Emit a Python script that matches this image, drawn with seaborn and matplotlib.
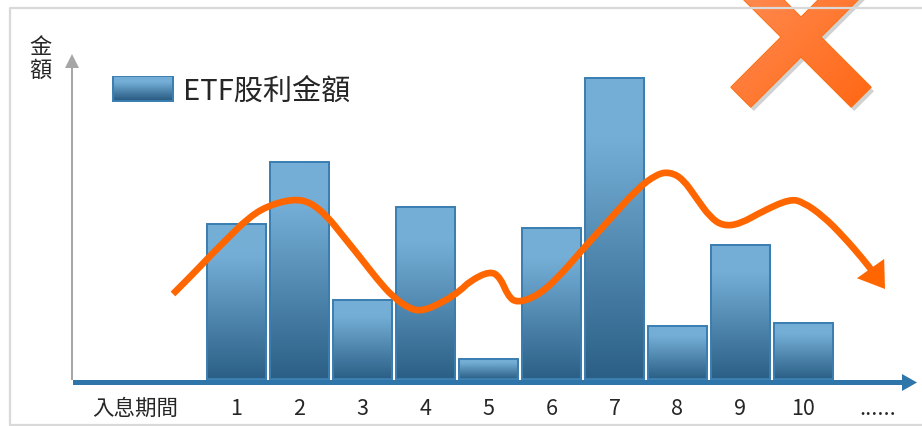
import numpy as np
import pandas as pd
import seaborn as sns
import matplotlib.pyplot as plt
from matplotlib.patches import Patch, Polygon, PathPatch
from matplotlib.path import Path
from matplotlib.colors import to_rgb

# data (amounts in arbitrary units)
periods = ['1', '2', '3', '4', '5', '6', '7', '8', '9', '10']
dividend = [15.5, 21.7, 7.9, 17.2, 2.0, 15.1, 30.1, 5.3, 13.4, 5.6]
tick_labels = ['入息期間'] + periods + ['......']
tick_pos = [-1.61, 0, 1, 2, 3, 4, 5, 6, 7, 8, 9, 10.18]

# orange trend curve, x in category positions, y in amount units
trend_x = [-1.008, -0.690, -0.421, -0.151, 0.167, 0.484, 0.897, 1.167, 1.437, 1.690,
           1.960, 2.230, 2.484, 2.754, 2.960, 3.278, 3.548, 3.706, 4.024, 4.183,
           4.310, 4.452, 4.770, 5.087, 5.500, 5.929, 6.357, 6.675, 6.881, 7.087,
           7.310, 7.516, 7.722, 7.992, 8.357, 8.786, 8.992, 9.310, 9.627, 9.944, 10.103]
trend_y = [8.5, 10.5, 12.3, 14.0, 16.0, 17.3, 18.0, 17.7, 16.3, 14.3,
           12.2, 10.0, 8.2, 7.0, 6.8, 7.7, 8.8, 9.8, 10.8, 10.2,
           8.3, 7.6, 8.3, 10.0, 13.0, 16.0, 19.0, 20.5, 20.7, 20.0,
           18.0, 16.2, 15.3, 15.5, 16.8, 18.0, 17.7, 16.3, 14.3, 12.0, 10.7]
trend_tip = (10.294, 9.0)

light = np.array(to_rgb('#74aed6'))
dark = np.array(to_rgb('#2b5f86'))
edge = '#3a7db0'
orange = '#ff6600'


def bar_gradient(n=200):
    t = np.linspace(0, 1, n)
    k = np.clip((t - 0.2) / 0.8, 0, 1)
    cols = light[None, :] * (1 - k[:, None]) + dark[None, :] * k[:, None]
    return cols[:, None, :]


sns.set_theme(style='white')
plt.rcParams['font.family'] = ['Noto Sans CJK TC', 'DejaVu Sans']

fig = plt.figure(figsize=(9.22, 4.27), dpi=100)

# overlay in pixel units for frame / axis arrows / decorations
ax2 = fig.add_axes([0, 0, 1, 1], zorder=0)
ax2.set_xlim(0, 922)
ax2.set_ylim(427, 0)
ax2.axis('off')
ax2.plot([10, 10, 922], [426, 9, 9], color='#d9d9d9', lw=1.6)
ax2.plot([10, 922], [426, 426], color='#d9d9d9', lw=1.6)
ax2.arrow(73, 383.5, 844, 0, width=5, head_width=17, head_length=15,
          length_includes_head=True, color='#2e75aa', lw=0)
ax2.arrow(72, 381, 0, -326, width=2, head_width=14, head_length=14,
          length_includes_head=True, color='#a6a6a6', lw=0)

# orange cross (decoration)
cx, cy, L, W = 801, 38, 85, 14
plus = np.array([(W, W), (L, W), (L, -W), (W, -W), (W, -L), (-W, -L), (-W, -W),
                 (-L, -W), (-L, W), (-W, W), (-W, L), (W, L)])
c, s = np.cos(np.pi / 4), np.sin(np.pi / 4)
xverts = plus @ np.array([[c, s], [-s, c]]) + [cx, cy]
ax2.add_patch(Polygon(xverts + [3, 4], closed=True, color='black', alpha=0.18, lw=0))
xpoly = Polygon(xverts, closed=True, facecolor='none', edgecolor='#ff6a00', lw=1)
ax2.add_patch(xpoly)
gx, gy = np.meshgrid(np.linspace(0, 1, 100), np.linspace(0, 1, 100))
gk = (gx + gy) / 2
xl, xd = np.array(to_rgb('#ff9a6c')), np.array(to_rgb('#ff5c00'))
ximg = xl * (1 - gk[..., None]) + xd * gk[..., None]
im = ax2.imshow(ximg, extent=(cx - 110, cx + 110, cy + 110, cy - 110), aspect='auto',
                interpolation='bilinear', zorder=1)
im.set_clip_path(xpoly)
ax2.set_xlim(0, 922)
ax2.set_ylim(427, 0)

# main chart
ax = fig.add_axes([72 / 922, 44 / 427, 845 / 922, 328 / 427], zorder=1)
ax.patch.set_visible(False)
df = pd.DataFrame({'period': periods, 'amount': dividend})
sns.barplot(data=df, x='period', y='amount', ax=ax, color='#74aed6', width=0.937,
            edgecolor=edge, linewidth=1.4, saturation=1)

grad = bar_gradient()
for p in ax.patches:
    x0, y0 = p.get_x(), p.get_y()
    w, h = p.get_width(), p.get_height()
    img = ax.imshow(grad, extent=(x0, x0 + w, y0, y0 + h), aspect='auto',
                    interpolation='bilinear', zorder=p.get_zorder() - 0.1)
    img.set_clip_path(p)
    p.set_facecolor('none')

# trend curve, drawn smooth through midpoints
pts = list(zip(trend_x, trend_y))
verts = [pts[0]]
codes = [Path.MOVETO]
for i in range(1, len(pts) - 1):
    mid = ((pts[i][0] + pts[i + 1][0]) / 2, (pts[i][1] + pts[i + 1][1]) / 2)
    verts += [pts[i], mid]
    codes += [Path.CURVE3, Path.CURVE3]
verts.append(pts[-1])
codes.append(Path.LINETO)
ax.add_patch(PathPatch(Path(verts, codes), facecolor='none', edgecolor=orange,
                       lw=4.8, capstyle='butt', joinstyle='round', zorder=5))
ax.annotate('', xy=trend_tip, xytext=pts[-1],
            arrowprops=dict(arrowstyle='-|>,head_length=1.2,head_width=0.8',
                            color=orange, lw=0, mutation_scale=15,
                            shrinkA=0, shrinkB=0), zorder=6)

ax.set_xlim(-2.611, 10.802)
ax.set_ylim(-0.3, 32.5)
for sp in ax.spines.values():
    sp.set_visible(False)
ax.set_yticks([])
ax.set_xticks(tick_pos, tick_labels, fontsize=15.5)
ax.tick_params(axis='x', length=0, pad=11)
ax.set_xlabel('')
ax.set_ylabel('')

fig.text(40 / 922, 1 - 59 / 427, '金\n額', fontsize=16, ha='center', va='center',
         linespacing=1.0)

fs = 21
leg = ax.legend(handles=[Patch(facecolor='#5a93c0', edgecolor=edge, lw=1.4)],
                labels=['ETF股利金額'], loc='center left', frameon=False,
                bbox_to_anchor=(113 / 922, 1 - 92 / 427), bbox_transform=fig.transFigure,
                fontsize=fs, handlelength=60 / (fs / 0.72), handleheight=27 / (fs / 0.72),
                handletextpad=0.35, borderpad=0, borderaxespad=0)

# put a gradient into the legend swatch
fig.canvas.draw()
hp = leg.get_patches()[0]
bb = hp.get_window_extent()
hw, hh = int(round(bb.width)) - 2, int(round(bb.height)) - 2
sw = bar_gradient(hh)[:, 0, :]
sw = np.repeat(sw[:, None, :], hw, axis=1)
fig.figimage(sw, xo=int(round(bb.x0)) + 1, yo=int(round(bb.y0)) + 1, zorder=5, origin='upper')

plt.savefig('out.png', dpi=100)
